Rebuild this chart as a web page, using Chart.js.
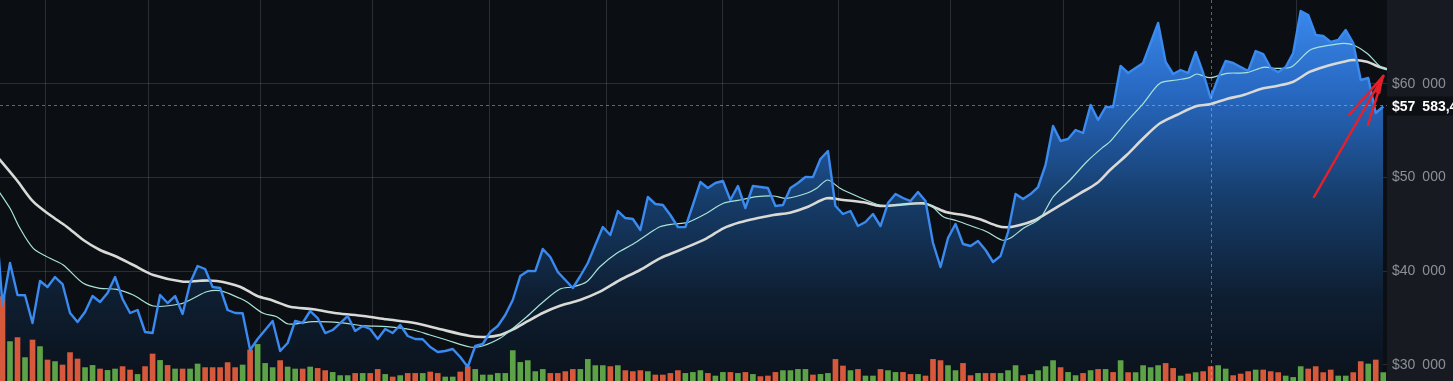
<!DOCTYPE html>
<html><head><meta charset="utf-8">
<script src="https://cdn.jsdelivr.net/npm/chart.js@4.4.1/dist/chart.umd.min.js"></script>
<style>
html,body{margin:0;padding:0;background:#0b0f14;overflow:hidden}
#wrap{position:relative;width:1453px;height:381px}
</style></head><body>
<div id="wrap"><canvas id="c" width="1453" height="381"></canvas></div>
<script>
// ---- data ----
const priceStart = -1;
const price = [47000,
36378,40865,37446,37420,34455,38942,38301,39369,38621,35523,
34562,35630,37339,36698,37660,39369,37019,35523,35844,33493,
33386,37446,36591,37339,35416,38728,40545,40224,38301,38194,
35844,35523,35500,31570,32745,33707,34668,31463,32318,34668,
34455,35737,34989,33386,33707,34455,35203,33600,34134,33814,
32745,33814,33386,34241,33066,32745,32720,31891,31356,31463,
31677,30822,29754,31997,32211,33493,34134,35309,36912,39476,
40010,40000,42361,41506,39904,39049,38194,39476,40865,42788,
44711,43857,46421,45673,45566,44391,47917,47169,47062,45993,
44711,44700,47062,49519,48878,49412,49626,47596,49092,46741,
49092,48985,48878,46955,47062,48878,49412,50053,50040,51976,
52831,46955,46100,46421,44818,45246,46100,44818,47275,48237,
47810,47489,48451,47489,43002,40438,43536,45032,42895,42681,
43216,42254,40972,41613,44177,48237,47703,48237,48985,51335,
55502,53900,54113,55075,54754,57746,56143,57532,57520,61913,
61165,61699,62233,64370,66507,62340,61058,61485,61165,63408,
61165,58494,60630,62447,62233,61806,61378,63515,63195,61699,
61272,61806,63301,67789,67361,65225,65118,64477,64690,65759,
64370,60417,60630,56891,57583];

const volume = [
42.2,19.7,21.7,11.7,20.5,17.2,10.5,9.7,8,14.2,
11,6.7,7.8,6,5.3,6,7.2,5.5,3.3,7.2,
13.5,10.3,7.8,6,6,6,8.5,6.7,6.7,6.7,
9.2,6.7,8,15.5,18.3,8.8,6.7,10.2,7,6,
6,7,6.3,5.2,4.3,2.7,2.7,3.8,3.8,3.8,
5.8,3.3,2,2.7,3.8,3.8,3.8,4.5,3.8,2,
2,4.5,7.2,5.8,3,3,3.8,3.8,15.2,9.3,
10.2,4.7,5.8,3.8,3.8,4.7,5.8,5.8,10.8,7.7,
7.7,7.2,7.7,5.2,4.7,5.2,4.7,3,3,3.8,
5.2,3.8,4.3,5.2,3.8,2.5,4.3,4.3,3.8,4.3,
3.3,2.2,2.5,4.3,5.2,5.2,5.8,5.8,3,3.3,
3.8,10.8,7.5,5.2,5.8,2.5,2.5,5.8,5.2,4.3,
4.3,3.3,3.3,2.5,10.8,10.2,7.7,5.2,8.8,2.7,
3.8,3.8,3.8,3.8,5.2,7.7,2.7,3.3,5.2,7.2,
10.2,6.7,4.3,2.7,3.8,5.2,5.8,5.8,4.3,10.2,
4.2,4.2,7.7,6.7,7.7,8.8,6.3,2.5,3.5,4.2,
4.7,7.2,7.7,6,2.7,3.5,4.7,5.5,5.5,4.7,
4.2,2.5,1.8,7.2,6,7.2,4.2,5.5,2.5,2.5,
4.2,9.7,8.5,10.5,4.2];

const direction = [
-1,1,-1,1,-1,1,-1,1,-1,-1,
-1,1,1,-1,1,1,-1,-1,1,-1,
-1,1,-1,1,-1,1,1,-1,-1,-1,
-1,-1,1,-1,1,1,1,-1,1,1,
-1,1,-1,-1,1,1,1,-1,1,-1,
-1,1,-1,1,-1,-1,1,-1,-1,1,
1,-1,-1,1,1,1,1,1,1,1,
1,1,1,-1,-1,-1,-1,1,1,1,
1,-1,1,-1,-1,-1,1,-1,-1,-1,
-1,1,1,1,-1,1,1,-1,1,-1,
1,-1,-1,-1,1,1,1,1,-1,1,
1,-1,-1,1,-1,1,1,-1,1,1,
-1,-1,1,-1,-1,-1,1,1,-1,-1,
1,-1,-1,1,1,1,-1,1,1,1,
1,-1,1,1,-1,1,-1,1,-1,1,
-1,1,1,1,1,-1,-1,1,-1,1,
-1,-1,1,1,-1,-1,-1,1,-1,-1,
-1,1,1,1,-1,-1,-1,-1,1,1,
-1,-1,1,-1,1];

const maLongX = [-1,1.89,4.10,6.33,8.56,10.77,12.99,15.22,17.43,20.10,24.09,26.32,28.54,31.65,33.88,36.09,38.31,41.42,44.54,48.08,51.20,54.74,57.86,62.30,64.30,66.30,68.07,69.86,72.07,74.30,76.96,79.62,82.29,84.96,87.62,90.29,93.84,96.06,98.28,100.51,102.72,104.94,107.17,109.83,112.05,114.72,116.94,119.17,122.71,124.04,125.83,128.04,130.27,132.49,133.82,135.60,137.37,139.16,141.37,143.59,145.82,147.59,149.82,152.03,154.25,156.48,159.14,160.92,163.14,165.36,168.02,169.81,172.02,174.25,176.47,178.71,180.04,181.83,183.16,184.5];
const maLong = [52515,49733,47414,45993,44743,43322,42254,41538,40651,39583,38867,38974,38942,38333,37371,36837,36196,35918,35490,35203,34850,34487,33888,33066,32959,33173,33782,34594,35555,36303,36912,37799,39049,40117,41367,42254,43504,44572,45213,45641,45993,46239,46816,47778,47596,47350,46955,47062,47243,46880,46282,45993,45534,44850,44679,44925,45384,46175,47243,48312,49380,50801,52404,54188,55791,56677,57639,57821,58387,58814,59530,59776,60235,61304,61913,62372,62554,62372,61913,61560];

const maShortX = [-1,1.0,2.33,4.10,6.33,8.10,10.77,12.99,15.22,17.43,20.10,23.65,25.43,27.21,28.98,31.65,32.54,34.75,36.54,38.09,41.42,44.98,48.08,51.20,54.74,56.97,59.19,62.30,64.07,66.30,67.63,69.86,72.07,74.30,76.07,77.85,79.62,81.85,84.06,85.85,87.62,89.39,91.18,92.95,93.84,96.06,98.28,100.51,102.72,104.50,107.17,108.50,109.96,111.61,113.83,116.94,119.17,121.83,123.60,125.38,127.16,129.38,131.16,133.16,134.26,136.04,138.26,140.04,142.27,144.49,146.72,147.59,149.82,152.03,154.25,156.48,158.25,159.14,160.92,163.14,165.80,168.02,169.81,171.81,174.25,176.47,178.71,180.04,181.83,183.61,184.5];
const maShort = [49119,46709,44572,42436,41367,40651,38696,38162,38055,37446,36271,36485,37094,37799,37906,37094,36731,35490,35128,34348,34594,34487,34166,34060,33707,33173,32638,31891,32030,32820,33632,35128,36731,38087,38333,38867,40470,41902,42895,43857,44743,45032,45171,45812,46175,47243,47596,47949,48023,47777,48312,48846,49733,48846,48023,47062,47062,47243,47062,45812,45384,44743,44209,43322,43504,44572,45641,47949,49733,51688,53291,53825,55962,57927,60064,60417,60705,61058,60663,61133,61197,61774,61667,61838,63622,64081,64338,64157,63269,61838,61560];

const priceTicks = [30000, 40000, 50000, 60000];
const gridX = [12.59, 26.19, 42.58, 56.04, 73.63, 87.22, 104.68, 118.14, 134.53, 148.12, 165.58, 179.17];
const crosshairX = 161.05;
const lastPrice = 57583;
const lastPriceLabel = '$57\u2002583,42';
// annotation arrow (data coordinates: index, price)
const arrowTip = [184.0, 60844];
const arrowTails = [[174.77, 47917], [179.44, 56677], [181.97, 55609]];

// ---- chart ----
const GREEN = '#5da246', RED = '#d6593b';
const fmt = v => '$' + Math.floor(v / 1000) + '\u2002' + String(v % 1000).padStart(3, '0');

const bgPlugin = {
  id: 'bg',
  beforeDraw(chart) {
    const { ctx, chartArea: a, width, height } = chart;
    ctx.save();
    ctx.fillStyle = '#0b0f14';
    ctx.fillRect(0, 0, width, height);
    ctx.fillStyle = '#171b21';
    ctx.fillRect(a.right, 0, width - a.right, height);
    ctx.restore();
  }
};

const overlayPlugin = {
  id: 'overlay',
  afterDatasetsDraw(chart) {
    const { ctx, chartArea: a, scales } = chart;
    const xs = scales.x, ys = scales.y;
    ctx.save();
    ctx.strokeStyle = 'rgba(200,205,212,0.45)';
    ctx.lineWidth = 1;
    ctx.setLineDash([3, 3]);
    const py = Math.round(ys.getPixelForValue(lastPrice)) - 1.5;
    ctx.beginPath(); ctx.moveTo(a.left, py); ctx.lineTo(a.right, py); ctx.stroke();
    const cx = Math.round(xs.getPixelForValue(crosshairX)) + 0.5;
    ctx.beginPath(); ctx.moveTo(cx, a.top); ctx.lineTo(cx, a.bottom); ctx.stroke();
    ctx.setLineDash([]);
    // red arrow annotation
    const tx = xs.getPixelForValue(arrowTip[0]), ty = ys.getPixelForValue(arrowTip[1]);
    ctx.strokeStyle = '#e5202b';
    ctx.fillStyle = '#e5202b';
    ctx.lineWidth = 2.5;
    ctx.lineCap = 'round';
    arrowTails.forEach(t => {
      ctx.beginPath();
      ctx.moveTo(xs.getPixelForValue(t[0]), ys.getPixelForValue(t[1]));
      ctx.lineTo(tx, ty);
      ctx.stroke();
    });
    ctx.beginPath();
    ctx.moveTo(tx, ty);
    ctx.lineTo(tx - 9, ty + 16);
    ctx.lineTo(tx - 3, ty + 18);
    ctx.closePath();
    ctx.fill();
    ctx.restore();
  },
  afterDraw(chart) {
    const { ctx, chartArea: a, scales, width } = chart;
    const py = scales.y.getPixelForValue(lastPrice);
    ctx.save();
    ctx.fillStyle = '#0c1015';
    ctx.fillRect(a.right, py - 10, width - a.right, 19);
    ctx.fillStyle = '#ffffff';
    ctx.font = 'bold 14px "Liberation Sans", Arial, sans-serif';
    ctx.textBaseline = 'middle';
    ctx.textAlign = 'left';
    ctx.fillText(lastPriceLabel, a.right + 5, py + 0.5);
    ctx.restore();
  }
};

const areaFill = (c) => {
  const a = c.chart.chartArea;
  if (!a) return 'rgba(0,0,0,0)';
  const g = c.chart.ctx.createLinearGradient(0, a.top, 0, a.bottom);
  g.addColorStop(0, '#3b8cf2');
  g.addColorStop(0.25, '#2767bf');
  g.addColorStop(0.52, '#163d6b');
  g.addColorStop(0.78, '#0e1e31');
  g.addColorStop(1, '#0b121b');
  return g;
};

const pricePts = price.map((v, k) => ({ x: priceStart + k, y: v }));
const noPad = s => { s.paddingTop = 0; s.paddingBottom = 0; s.paddingLeft = 0; s.paddingRight = 0; };

new Chart(document.getElementById('c'), {
  type: 'bar',
  data: {
    datasets: [
      {
        type: 'line', label: 'area', data: pricePts, yAxisID: 'y',
        borderWidth: 0, pointRadius: 0, tension: 0, fill: 'start',
        backgroundColor: areaFill, order: 6, clip: 0
      },
      {
        type: 'bar', label: 'Volume', yAxisID: 'v',
        data: volume.map((v, i) => ({ x: i, y: v })),
        backgroundColor: direction.map(d => d > 0 ? GREEN : RED),
        barThickness: 5, order: 5, clip: 0
      },
      {
        type: 'line', label: 'MA long', yAxisID: 'y',
        data: maLong.map((v, i) => ({ x: maLongX[i], y: v })),
        borderColor: '#d9d9d6', borderWidth: 2.6, pointRadius: 0, tension: 0.3,
        fill: false, order: 3, clip: 0
      },
      {
        type: 'line', label: 'MA short', yAxisID: 'y',
        data: maShort.map((v, i) => ({ x: maShortX[i], y: v })),
        borderColor: '#a8e4d6', borderWidth: 1.2, pointRadius: 0, tension: 0.3,
        fill: false, order: 2, clip: 0
      },
      {
        type: 'line', label: 'Price', yAxisID: 'y', data: pricePts,
        borderColor: '#3a8af0', borderWidth: 2.4, pointRadius: 0, tension: 0,
        borderJoinStyle: 'round', fill: false, order: 1, clip: 0
      }
    ]
  },
  options: {
    responsive: false,
    devicePixelRatio: 1,
    animation: false,
    events: [],
    layout: { padding: 0 },
    plugins: { legend: { display: false }, tooltip: { enabled: false } },
    scales: {
      x: {
        type: 'linear', min: -0.333, max: 184.5, offset: false,
        afterBuildTicks: s => { s.ticks = gridX.map(v => ({ value: v })); },
        afterFit: s => { s.height = 0; noPad(s); },
        ticks: { display: false },
        grid: { color: 'rgba(255,255,255,0.13)', lineWidth: 1, drawTicks: false },
        border: { display: false }
      },
      y: {
        type: 'linear', position: 'right', min: 28259, max: 68964,
        afterBuildTicks: s => { s.ticks = priceTicks.map(v => ({ value: v })); },
        afterFit: s => { s.width = 66; noPad(s); },
        ticks: {
          color: '#8b9098', padding: 5,
          font: { family: '"Liberation Sans", Arial, sans-serif', size: 14 },
          callback: v => fmt(v)
        },
        grid: { color: 'rgba(255,255,255,0.13)', lineWidth: 1, drawTicks: false },
        border: { display: false }
      },
      v: {
        type: 'linear', display: false, min: 0, max: 190.5,
        afterFit: noPad
      }
    }
  },
  plugins: [bgPlugin, overlayPlugin]
});
</script>
</body></html>
